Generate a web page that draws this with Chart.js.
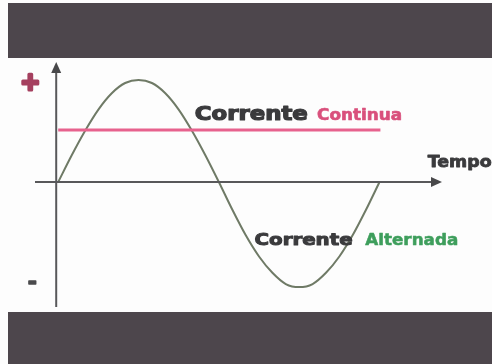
<!DOCTYPE html>
<html>
<head>
<meta charset="utf-8">
<script src="https://cdn.jsdelivr.net/npm/chart.js@4/dist/chart.umd.min.js"></script>
<style>
  html,body{margin:0;padding:0;background:#fff;}
  #wrap{position:relative;width:492px;height:364px;overflow:hidden;background:#fdfdfd;}
  .band{position:absolute;left:8px;right:0;background:#4d464c;}
  #top{top:3px;height:55px;}
  #bot{top:312px;bottom:0;}
  canvas{position:absolute;left:0;top:0;}
</style>
</head>
<body>
<div id="wrap">
  <div class="band" id="top"></div>
  <div class="band" id="bot"></div>
  <canvas id="c" width="492" height="364"></canvas>
</div>
<script>
// Phase angle (degrees) along the time axis
const angles = [0,15,30,45,60,75,90,105,120,135,150,165,180,195,210,225,240,255,270,285,300,315,330,345,360];
// Alternating current (relative amplitude)
const alternada = [0,0.26,0.5,0.71,0.87,0.97,1.0,0.97,0.87,0.71,0.5,0.26,0,-0.27,-0.52,-0.73,-0.89,-1.0,-1.03,-1.0,-0.89,-0.73,-0.52,-0.27,0];
// Direct current (constant level)
const continuaX = [0,361];
const continuaY = [0.51,0.51];
// Labels
const labelPlus = '+';
const labelMinus = '-';
const labelTempo = 'Tempo';
const labelCorrente = 'Corrente';
const labelContinua = 'Continua';
const labelAlternada = 'Alternada';

const acData = angles.map((a,i)=>({x:a,y:alternada[i]}));
const dcData = continuaX.map((a,i)=>({x:a,y:continuaY[i]}));

function drawStretched(ctx, text, x, y, font, color, width, stroke){
  ctx.save();
  ctx.font = font;
  ctx.fillStyle = color;
  ctx.strokeStyle = color;
  ctx.lineJoin = 'round';
  ctx.textBaseline = 'alphabetic';
  ctx.textAlign = 'left';
  const w = ctx.measureText(text).width;
  const s = width ? width / w : 1;
  ctx.translate(x, y);
  ctx.scale(s, 1);
  if (stroke) { ctx.lineWidth = stroke; ctx.strokeText(text, 0, 0); }
  ctx.fillText(text, 0, 0);
  ctx.restore();
}

const decor = {
  id:'decor',
  afterDatasetsDraw(chart){
    const ctx = chart.ctx;
    const xs = chart.scales.x, ys = chart.scales.y;
    const ca = chart.chartArea;
    const y0 = ys.getPixelForValue(0);
    const x0 = xs.getPixelForValue(0) - 2;
    ctx.save();
    ctx.strokeStyle = '#58585a';
    ctx.fillStyle = '#48484a';
    ctx.lineWidth = 2;
    // x axis
    ctx.beginPath();
    ctx.moveTo(ca.left, y0);
    ctx.lineTo(ca.right - 8, y0);
    ctx.stroke();
    ctx.beginPath();
    ctx.moveTo(ca.right, y0);
    ctx.lineTo(ca.right - 11, y0 - 5);
    ctx.lineTo(ca.right - 11, y0 + 5);
    ctx.closePath();
    ctx.fill();
    // y axis
    ctx.beginPath();
    ctx.moveTo(x0, ca.bottom);
    ctx.lineTo(x0, ca.top + 8);
    ctx.stroke();
    ctx.beginPath();
    ctx.moveTo(x0, ca.top);
    ctx.lineTo(x0 - 5, ca.top + 11);
    ctx.lineTo(x0 + 5, ca.top + 11);
    ctx.closePath();
    ctx.fill();
    ctx.restore();

    // + and - marks
    ctx.save();
    ctx.textAlign = 'center';
    ctx.textBaseline = 'middle';
    ctx.lineJoin = 'round';
    ctx.font = 'bold 24px "DejaVu Sans"';
    ctx.fillStyle = '#a5405f';
    ctx.strokeStyle = '#a5405f';
    ctx.lineWidth = 3;
    ctx.strokeText(labelPlus, x0 - 26, ys.getPixelForValue(0.96));
    ctx.fillText(labelPlus, x0 - 26, ys.getPixelForValue(0.96));
    ctx.font = 'bold 22px "DejaVu Sans"';
    ctx.fillStyle = '#4a4a4c';
    ctx.strokeStyle = '#4a4a4c';
    ctx.lineWidth = 1.5;
    ctx.strokeText(labelMinus, x0 - 24, ys.getPixelForValue(-0.99));
    ctx.fillText(labelMinus, x0 - 24, ys.getPixelForValue(-0.99));
    ctx.restore();

    // labels
    drawStretched(ctx, labelCorrente, xs.getPixelForValue(153), ys.getPixelForValue(0.61), 'bold 19px "DejaVu Sans"', '#3a3a3c', 113, 1.2);
    drawStretched(ctx, labelContinua, xs.getPixelForValue(290), ys.getPixelForValue(0.61), 'bold 15px "DejaVu Sans"', '#d9507c', 85, 0.6);
    drawStretched(ctx, labelTempo, xs.getPixelForValue(414), ys.getPixelForValue(0.15), 'bold 16px "DejaVu Sans"', '#3a3a3c', 64, 0.8);
    drawStretched(ctx, labelCorrente, xs.getPixelForValue(220), ys.getPixelForValue(-0.62), 'bold 16px "DejaVu Sans"', '#3a3a3c', 98, 1);
    drawStretched(ctx, labelAlternada, xs.getPixelForValue(344), ys.getPixelForValue(-0.62), 'bold 15px "DejaVu Sans"', '#3e9e5c', 93, 0.5);
  }
};

new Chart(document.getElementById('c'), {
  type:'line',
  data:{
    datasets:[
      {label:'Corrente Continua', data:dcData, borderColor:'#e7628e', borderWidth:3, pointRadius:0, tension:0},
      {label:'Corrente Alternada', data:acData, borderColor:'#6f7a66', borderWidth:2, pointRadius:0, cubicInterpolationMode:'monotone'}
    ]
  },
  options:{
    responsive:false,
    animation:false,
    devicePixelRatio:1,
    layout:{padding:{left:35,right:50,top:62,bottom:57}},
    plugins:{legend:{display:false},tooltip:{enabled:false},title:{display:false}},
    scales:{
      x:{type:'linear',min:-26,max:430,display:false},
      y:{type:'linear',min:-1.225,max:1.176,display:false}
    }
  },
  plugins:[decor]
});
</script>
</body>
</html>
